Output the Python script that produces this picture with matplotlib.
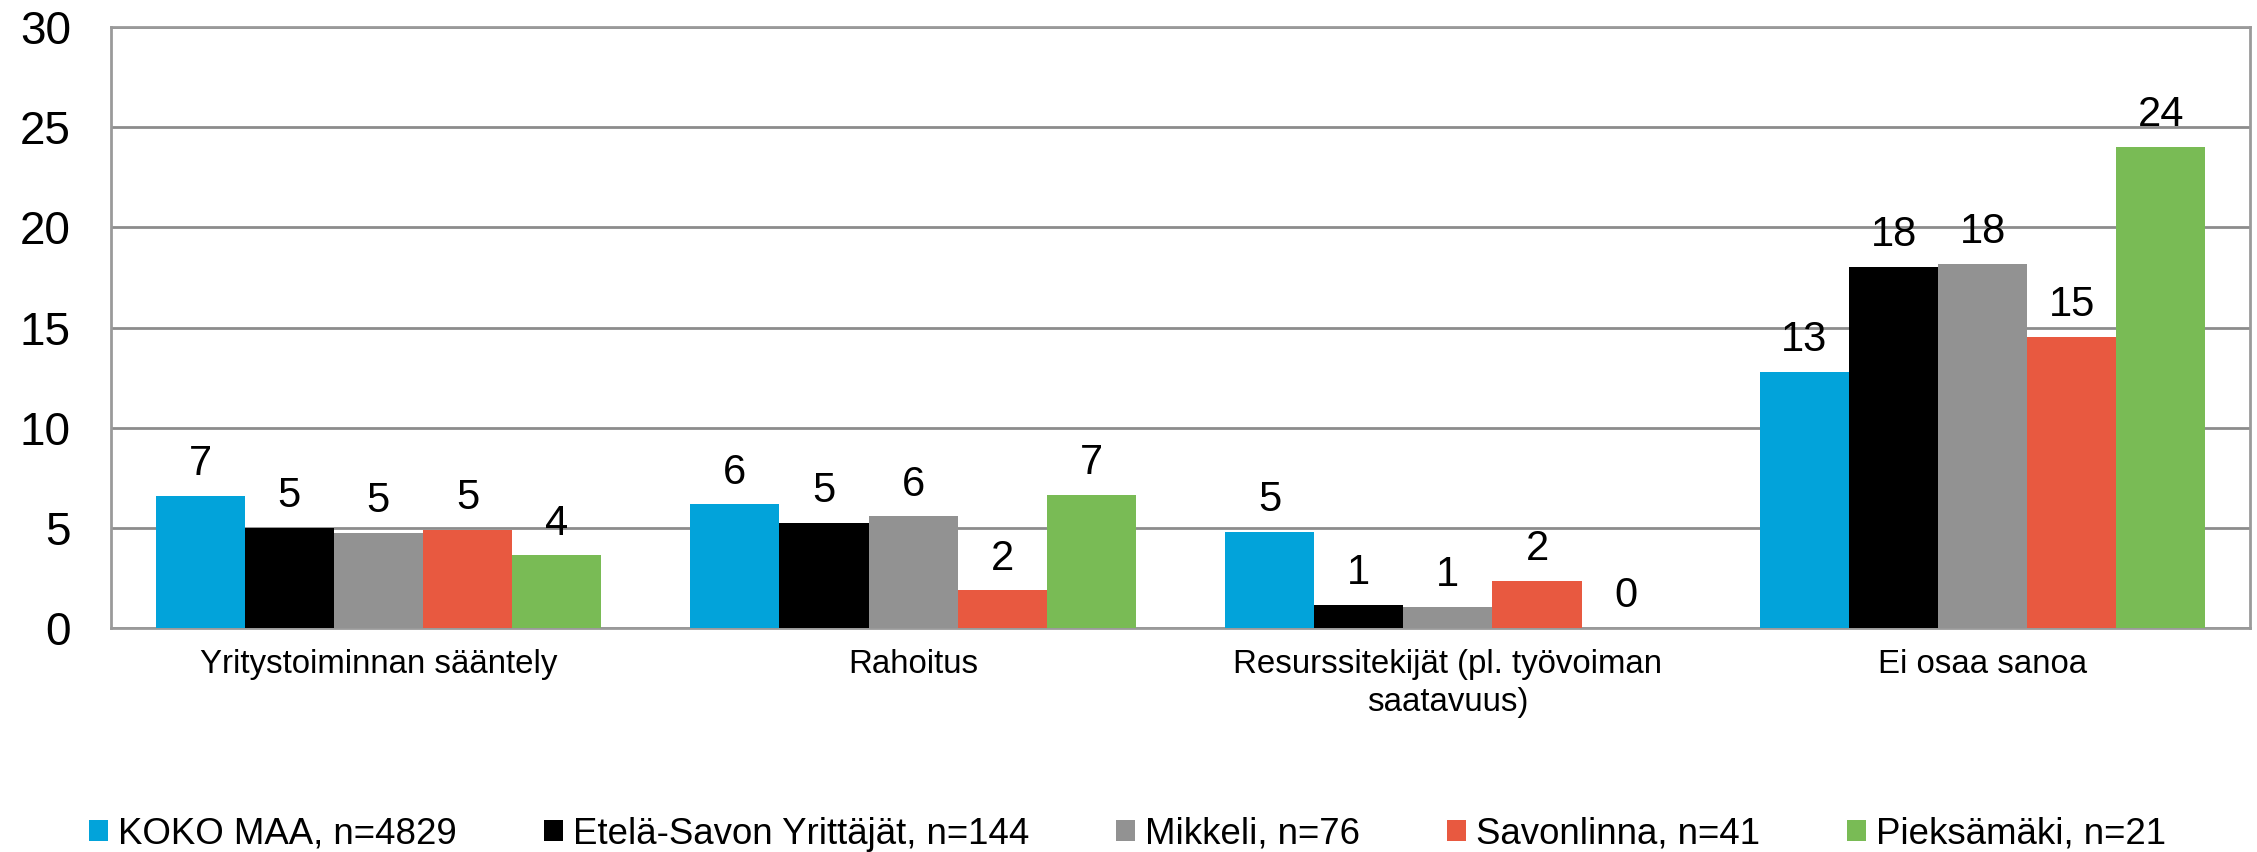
import numpy as np
import matplotlib.pyplot as plt
from matplotlib.patches import Patch

plt.rcParams['font.family'] = ['Liberation Sans', 'DejaVu Sans']

# Data
kategoriat = ['Yritystoiminnan sääntely', 'Rahoitus',
              'Resurssitekijät (pl. työvoiman\nsaatavuus)', 'Ei osaa sanoa']
sarjat = ['KOKO MAA, n=4829', 'Etelä-Savon Yrittäjät, n=144', 'Mikkeli, n=76',
          'Savonlinna, n=41', 'Pieksämäki, n=21']
koko_maa = [6.59, 6.17, 4.8, 12.8]
etela_savo = [4.99, 5.24, 1.17, 18.01]
mikkeli = [4.74, 5.57, 1.05, 18.16]
savonlinna = [4.89, 1.88, 2.34, 14.52]
pieksamaki = [3.62, 6.65, 0.0, 24.03]
arvot = [koko_maa, etela_savo, mikkeli, savonlinna, pieksamaki]
varit = ['#02A3DA', '#000000', '#929292', '#E85940', '#79BB55']

fig = plt.figure(figsize=(22.57, 8.52), dpi=100)
ax = fig.add_axes([0.0492, 0.2629, 0.9477, 0.7054])

x = np.arange(len(kategoriat))
leveys = 1 / 6
for i, (sarja, vari) in enumerate(zip(arvot, varit)):
    pos = x + (i - 2) * leveys
    ax.bar(pos, sarja, width=leveys, color=vari, zorder=3)
    for px, v in zip(pos, sarja):
        # Excel-tyylinen pyöristys (0.5 ylöspäin)
        ax.annotate(str(int(v + 0.5)), (px, v), xytext=(0, 8.5), textcoords='offset points',
                    ha='center', va='bottom', fontsize=30, zorder=4)

ax.set_xlim(-0.5, 3.5)
ax.set_ylim(0, 30)
ax.set_yticks(range(0, 31, 5))
ax.tick_params(axis='y', labelsize=33, length=0, pad=29)
ax.set_xticks(x)
ax.set_xticklabels(kategoriat, fontsize=23.8, linespacing=1.3)
ax.tick_params(axis='x', length=0, pad=15)
ax.grid(axis='y', color='#8C8C8C', linewidth=2, zorder=0)
for s in ax.spines.values():
    s.set_color('#9A9A9A')
    s.set_linewidth(2)

kahvat = [Patch(facecolor=c) for c in varit]
fig.legend(kahvat, sarjat, loc='center', bbox_to_anchor=(0.4995, 0.021), ncol=5,
           frameon=False, fontsize=26.4, handlelength=0.52, handleheight=0.49,
           handletextpad=0.27, columnspacing=2.37, borderpad=0)

fig.savefig('out.png', dpi=100)
